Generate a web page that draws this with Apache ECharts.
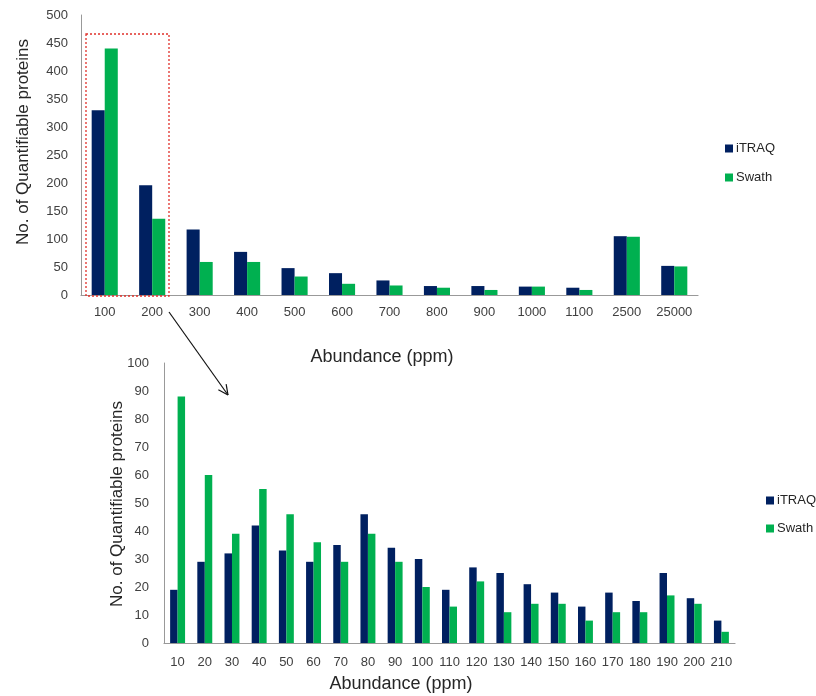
<!DOCTYPE html>
<html>
<head>
<meta charset="utf-8">
<script src="https://cdn.jsdelivr.net/npm/echarts@6/dist/echarts.min.js"></script>
<style>html,body{margin:0;padding:0;background:#fff}#c{width:816px;height:696px}</style>
</head>
<body>
<div id="c"></div>
<script>
// Top chart data
const topCategories = ['100','200','300','400','500','600','700','800','900','1000','1100','2500','25000'];
const topITRAQ = [330,196,117,77,48,39,26,16,16,15,13,105,52];
const topSwath = [440,136,59,59,33,20,17,13,9,15,9,104,51];
// Bottom chart data
const botCategories = ['10','20','30','40','50','60','70','80','90','100','110','120','130','140','150','160','170','180','190','200','210'];
const botITRAQ = [19,29,32,42,33,29,35,46,34,30,19,27,25,21,18,13,18,15,25,16,8];
const botSwath = [88,60,39,55,46,36,29,39,29,20,13,22,11,14,14,8,11,11,17,14,4];
const topYTicks = {min:0, max:500, interval:50};
const botYTicks = {min:0, max:100, interval:10};

const NAVY = '#002060', GREEN = '#00B050';
const FONT = 'Liberation Sans';
const txt = '#404040';

const chart = echarts.init(document.getElementById('c'), null, {renderer:'canvas'});

function xAx(idx, cats, margin){
  return {type:'category', gridIndex:idx, data:cats,
    axisLine:{lineStyle:{color:'#999', width:1.2}}, axisTick:{show:false},
    axisLabel:{color:txt, fontFamily:FONT, fontSize:13, interval:0, margin:margin}};
}
function yAx(idx, t, margin){
  return {type:'value', gridIndex:idx, min:t.min, max:t.max, interval:t.interval,
    axisLine:{show:true, lineStyle:{color:'#999', width:1}}, axisTick:{show:false},
    splitLine:{show:false},
    axisLabel:{color:txt, fontFamily:FONT, fontSize:13, margin:margin}};
}
function bar(name, x, data, color){
  return {type:'bar', name:name, xAxisIndex:x, yAxisIndex:x, data:data,
    itemStyle:{color:color}, barGap:'0%', barCategoryGap:'45%', animation:false};
}

// arrow geometry
const a0=[169,312], a1=[228,395];
const dx=a1[0]-a0[0], dy=a1[1]-a0[1], L=Math.hypot(dx,dy), ux=dx/L, uy=dy/L;
function head(sign){
  const ang=sign*Math.PI/7, c=Math.cos(ang), s=Math.sin(ang);
  const rx=-(ux*c - uy*s), ry=-(ux*s + uy*c);
  return [[a1[0],a1[1]],[a1[0]+rx*11, a1[1]+ry*11]];
}

chart.setOption({
  animation:false,
  grid:[
    {left:81, top:15, width:617, height:280},
    {left:164, top:363, width:571, height:280}
  ],
  xAxis:[xAx(0, topCategories, 11), xAx(1, botCategories, 13)],
  yAxis:[yAx(0, topYTicks, 13), yAx(1, botYTicks, 15)],
  legend:[
    {orient:'vertical', left:720, top:137, itemWidth:8, itemHeight:8, itemGap:16,
     icon:'rect', data:['iTRAQ','Swath'],
     textStyle:{color:'#262626', fontFamily:FONT, fontSize:13, padding:[0,0,0,-2]}},
    {orient:'vertical', left:761, top:489, itemWidth:8, itemHeight:8, itemGap:15,
     icon:'rect', data:['iTRAQ','Swath'],
     textStyle:{color:'#262626', fontFamily:FONT, fontSize:13, padding:[0,0,0,-2]}}
  ],
  series:[
    bar('iTRAQ',0,topITRAQ,NAVY), bar('Swath',0,topSwath,GREEN),
    bar('iTRAQ',1,botITRAQ,NAVY), bar('Swath',1,botSwath,GREEN)
  ],
  graphic:[
    {type:'text', x:382, y:357, style:{text:'Abundance (ppm)', fill:'#262626', font:'18px '+FONT, align:'center', verticalAlign:'middle'}},
    {type:'text', x:401, y:684, style:{text:'Abundance (ppm)', fill:'#262626', font:'18px '+FONT, align:'center', verticalAlign:'middle'}},
    {type:'text', x:23, y:142, rotation:Math.PI/2, style:{text:'No. of Quantifiable proteins', fill:'#262626', font:'17px '+FONT, align:'center', verticalAlign:'middle'}},
    {type:'text', x:117, y:504, rotation:Math.PI/2, style:{text:'No. of Quantifiable proteins', fill:'#262626', font:'17px '+FONT, align:'center', verticalAlign:'middle'}},
    {type:'rect', shape:{x:86, y:34, width:83, height:262}, style:{fill:'none', stroke:'#E0302A', lineWidth:1.3, lineDash:[2,2]}, z:10},
    {type:'polyline', shape:{points:[a0,a1]}, style:{stroke:'#111', lineWidth:1.2, fill:'none'}},
    {type:'polyline', shape:{points:head(1)}, style:{stroke:'#111', lineWidth:1.2, fill:'none'}},
    {type:'polyline', shape:{points:head(-1)}, style:{stroke:'#111', lineWidth:1.2, fill:'none'}}
  ]
});
</script>
</body>
</html>
